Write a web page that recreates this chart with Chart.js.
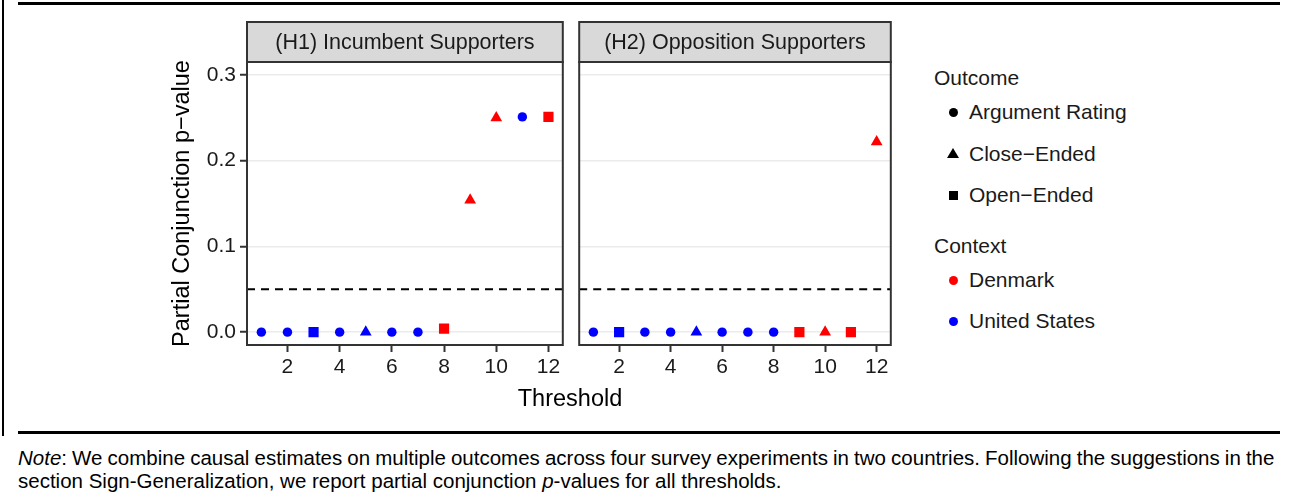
<!DOCTYPE html>
<html lang="en">
<head>
<meta charset="UTF-8">
<title>Partial conjunction p-values by threshold</title>
<script src="https://cdn.jsdelivr.net/npm/chart.js"></script>
<style>
  body { margin: 0; width: 1292px; height: 500px; background: #fff; position: relative; overflow: hidden;
         font-family: "Liberation Sans", Arial, sans-serif; color: #1a1a1a; }
  .abs { position: absolute; }
  #topRule { left: 18px; top: 2px; width: 1262px; height: 3px; background: #000; }
  #leftRule { left: 2px; top: 0; width: 2px; height: 436px; background: #000; }
  #bottomRule { left: 18px; top: 431px; width: 1262px; height: 3px; background: #000; }
  #p1 { left: 150px; top: 20px; }
  #p2 { left: 572px; top: 20px; }
  #xTitle { left: 420px; width: 300px; top: 385px; text-align: center; font-size: 23.5px; color: #000; }
  .legTitle { font-size: 21px; left: 934px; line-height: 24px; }
  .legItem { font-size: 21px; left: 969px; line-height: 24px; }
  .mk { position: absolute; }
  .circ { width: 9px; height: 9px; border-radius: 50%; }
  .sq { width: 9px; height: 9px; background: #000; }
  .tri { width: 0; height: 0; border-left: 6px solid transparent; border-right: 6px solid transparent; border-bottom: 10px solid #000; }
  .note { left: 18px; font-size: 20.5px; line-height: 23px; white-space: nowrap; color: #000; }
</style>
</head>
<body>
<div id="topRule" class="abs"></div>
<div id="leftRule" class="abs"></div>
<div id="bottomRule" class="abs"></div>

<canvas id="p1" class="abs" width="420" height="380"></canvas>
<canvas id="p2" class="abs" width="326" height="380"></canvas>
<div id="xTitle" class="abs">Threshold</div>

<div class="abs legTitle" style="top:66px">Outcome</div>
<div class="mk circ" style="left:949px;top:108px;background:#000"></div>
<div class="abs legItem" style="top:100px">Argument Rating</div>
<div class="mk tri" style="left:947px;top:148px"></div>
<div class="abs legItem" style="top:142px">Close−Ended</div>
<div class="mk sq" style="left:949px;top:191px"></div>
<div class="abs legItem" style="top:183px">Open−Ended</div>
<div class="abs legTitle" style="top:234px">Context</div>
<div class="mk circ" style="left:949px;top:276px;background:#ff0000"></div>
<div class="abs legItem" style="top:268px">Denmark</div>
<div class="mk circ" style="left:949px;top:317px;background:#0000ff"></div>
<div class="abs legItem" style="top:309px">United States</div>

<div class="abs note" style="top:446px;word-spacing:-0.6px"><i>Note</i>: We combine causal estimates on multiple outcomes across four survey experiments in two countries. Following the suggestions in the</div>
<div class="abs note" style="top:469px">section Sign-Generalization, we report partial conjunction <i>p</i>-values for all thresholds.</div>

<script>
// data
const thresholds = [1, 2, 3, 4, 5, 6, 7, 8, 9, 10, 11, 12];

const h1Values  = [0, 0, 0, 0, 0, 0, 0, 0.004, 0.154, 0.250, 0.251, 0.251];
const h1Outcome = ['Argument Rating', 'Argument Rating', 'Open-Ended', 'Argument Rating', 'Close-Ended', 'Argument Rating',
                   'Argument Rating', 'Open-Ended', 'Close-Ended', 'Close-Ended', 'Argument Rating', 'Open-Ended'];
const h1Context = ['United States', 'United States', 'United States', 'United States', 'United States', 'United States',
                   'United States', 'Denmark', 'Denmark', 'Denmark', 'United States', 'Denmark'];

const h2Values  = [0, 0, 0, 0, 0, 0, 0, 0, 0, 0, 0, 0.222];
const h2Outcome = ['Argument Rating', 'Open-Ended', 'Argument Rating', 'Argument Rating', 'Close-Ended', 'Argument Rating',
                   'Argument Rating', 'Argument Rating', 'Open-Ended', 'Close-Ended', 'Open-Ended', 'Close-Ended'];
const h2Context = ['United States', 'United States', 'United States', 'United States', 'United States', 'United States',
                   'United States', 'United States', 'Denmark', 'Denmark', 'Denmark', 'Denmark'];

const xTicks = [2, 4, 6, 8, 10, 12];
const yTicks = [0, 0.1, 0.2, 0.3];
const cutoff = 0.05;

const shapes = { 'Argument Rating': 'circle', 'Close-Ended': 'triangle', 'Open-Ended': 'rect' };
const sizes  = { 'Argument Rating': 4.7, 'Close-Ended': 6.8, 'Open-Ended': 7.2 };
const colors = { 'Denmark': '#ff0000', 'United States': '#0000ff' };

const xMin = 0.45, xMax = 12.55, yMin = -0.015, yMax = 0.315;
const FONT = '"Liberation Sans", Arial, sans-serif';

// strip + panel border, ggplot facet style
const stripPlugin = {
  id: 'strip',
  afterDraw(chart, args, opts) {
    const { ctx, chartArea: a } = chart;
    ctx.save();
    ctx.lineWidth = 2;
    ctx.strokeStyle = '#333333';
    ctx.fillStyle = '#d9d9d9';
    ctx.fillRect(a.left, a.top - 40, a.right - a.left, 40);
    ctx.strokeRect(a.left, a.top - 40, a.right - a.left, 40);
    ctx.strokeRect(a.left, a.top, a.right - a.left, a.bottom - a.top);
    ctx.fillStyle = '#1a1a1a';
    ctx.font = '21.5px ' + FONT;
    ctx.textAlign = 'center';
    ctx.textBaseline = 'middle';
    ctx.fillText(opts.title, (a.left + a.right) / 2, a.top - 19);
    ctx.restore();
  }
};

function makePanel(id, title, values, outcome, context, showY) {
  new Chart(document.getElementById(id), {
    type: 'scatter',
    data: {
      datasets: [
        {
          data: thresholds.map((t, i) => ({ x: t, y: values[i] })),
          pointStyle: outcome.map(o => shapes[o]),
          pointRadius: outcome.map(o => sizes[o]),
          backgroundColor: context.map(c => colors[c]),
          borderWidth: 0
        },
        {
          type: 'line',
          data: [{ x: xMin, y: cutoff }, { x: xMax, y: cutoff }],
          borderColor: '#000',
          borderWidth: 2,
          borderDash: [8, 6],
          pointRadius: 0
        }
      ]
    },
    options: {
      responsive: false,
      animation: false,
      layout: { padding: { top: 42, left: showY ? 0 : 5, right: 5, bottom: 0 } },
      plugins: { legend: { display: false }, tooltip: { enabled: false }, strip: { title: title } },
      scales: {
        x: {
          type: 'linear', min: xMin, max: xMax,
          afterBuildTicks: s => { s.ticks = xTicks.map(v => ({ value: v })); },
          afterFit: s => { s.height = 55; },
          border: { display: false },
          grid: { drawOnChartArea: false, drawTicks: true, tickLength: 7, tickColor: '#333333', tickWidth: 2 },
          ticks: { color: '#1a1a1a', font: { size: 21, family: FONT }, padding: 3, maxRotation: 0 }
        },
        y: {
          type: 'linear', min: yMin, max: yMax,
          afterBuildTicks: s => { s.ticks = yTicks.map(v => ({ value: v })); },
          afterFit: s => { s.width = showY ? 97 : 0; },
          border: { display: false },
          grid: { color: '#ebebeb', lineWidth: 1.5, drawTicks: showY, tickLength: 7, tickColor: '#333333', tickWidth: 2 },
          ticks: { display: showY, color: '#1a1a1a', font: { size: 21, family: FONT }, padding: 4,
                   callback: v => v.toFixed(1) },
          title: { display: showY, text: 'Partial Conjunction p−value', color: '#000',
                   font: { size: 23.5, family: FONT }, padding: { top: 18, bottom: 0 } }
        }
      }
    },
    plugins: [stripPlugin]
  });
}

makePanel('p1', '(H1) Incumbent Supporters', h1Values, h1Outcome, h1Context, true);
makePanel('p2', '(H2) Opposition Supporters', h2Values, h2Outcome, h2Context, false);
</script>
</body>
</html>
